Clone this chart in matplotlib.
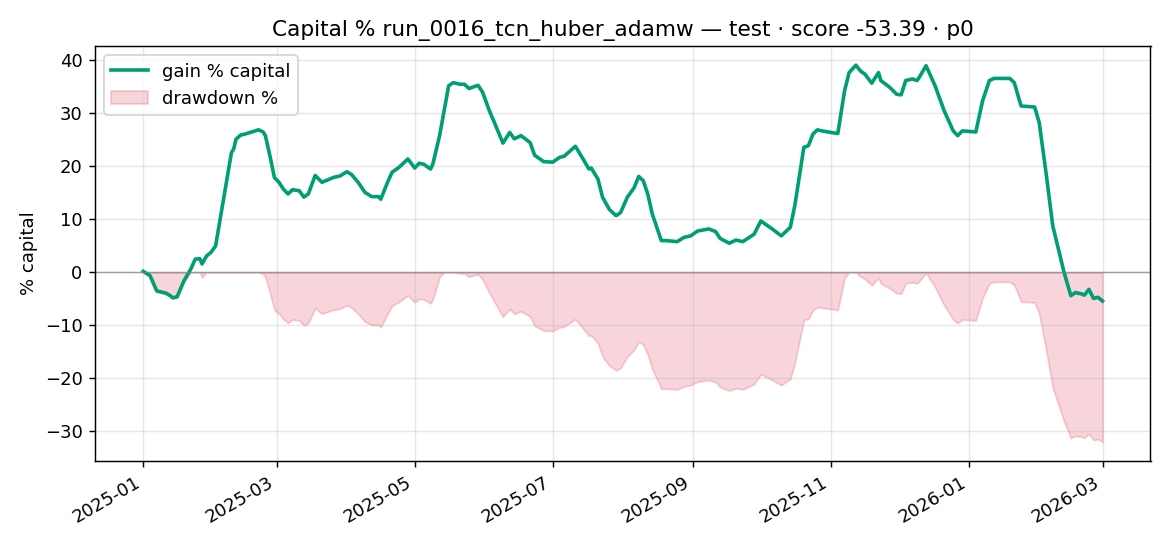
import matplotlib
matplotlib.use("Agg")
import matplotlib.pyplot as plt
from matplotlib.dates import DateFormatter, MonthLocator
import numpy as np
import pandas as pd

start = pd.Timestamp("2025-01-01")

# days since start, gain % of capital
day_offsets = [0, 3, 6, 10, 12, 13, 15, 18, 21, 23, 25, 26, 28, 30, 32, 34, 36, 39, 40, 41,
               43, 45, 48, 51, 53, 54, 56, 58, 60, 62, 64, 66, 69, 71, 73, 76, 79, 84, 87, 90,
               92, 95, 98, 101, 104, 105, 108, 110, 113, 114, 117, 120, 122, 124, 127, 128, 131, 133, 135, 137,
               140, 142, 144, 148, 150, 153, 155, 159, 162, 164, 167, 171, 173, 177, 181, 184, 186, 191, 194, 197,
               198, 201, 203, 206, 209, 211, 214, 217, 219, 221, 223, 225, 229, 231, 236, 239, 242, 245, 250, 253,
               255, 259, 262, 265, 270, 273, 278, 282, 286, 288, 292, 294, 296, 298, 300, 304, 307, 310, 312, 315,
               317, 319, 322, 325, 326, 330, 333, 335, 337, 340, 342, 343, 346, 350, 354, 356, 358, 360, 362, 368,
               371, 374, 376, 383, 385, 388, 394, 396, 399, 402, 407, 410, 412, 415, 416, 418, 420, 422, 424]
gain_pct = [0.2, -0.6, -3.5, -3.9, -4.4, -4.8, -4.6, -1.6, 0.6, 2.5, 2.6, 1.6, 3.1, 3.8, 5.0, 10.0, 15.1, 22.6, 23.3, 25.1,
            25.9, 26.1, 26.5, 26.9, 26.5, 25.8, 22.0, 17.9, 17.0, 15.7, 14.8, 15.6, 15.4, 14.2, 14.8, 18.3, 17.0, 17.9, 18.2, 19.0,
            18.5, 17.0, 15.1, 14.3, 14.3, 13.8, 17.0, 18.9, 19.8, 20.2, 21.4, 19.7, 20.6, 20.4, 19.5, 20.4, 25.8, 30.5, 35.2, 35.8,
            35.5, 35.5, 34.7, 35.3, 34.0, 30.5, 28.5, 24.4, 26.4, 25.2, 25.8, 24.5, 22.1, 20.9, 20.8, 21.7, 21.9, 23.8, 21.7, 19.5,
            19.7, 17.6, 14.2, 11.9, 10.7, 11.3, 14.2, 16.0, 18.1, 17.3, 14.8, 11.0, 6.0, 6.0, 5.8, 6.6, 6.9, 7.8, 8.2, 7.7,
            6.4, 5.5, 6.1, 5.8, 7.2, 9.7, 8.2, 6.9, 8.5, 12.6, 23.6, 23.9, 26.1, 26.9, 26.7, 26.4, 26.2, 34.3, 37.7, 39.1,
            38.0, 37.4, 35.7, 37.7, 36.2, 34.9, 33.6, 33.5, 36.2, 36.5, 36.2, 36.8, 39.0, 35.2, 30.5, 28.6, 26.7, 25.8, 26.7, 26.5,
            32.4, 36.2, 36.6, 36.6, 35.8, 31.4, 31.2, 28.3, 18.9, 8.8, 0.0, -4.4, -3.8, -4.1, -4.3, -3.2, -4.9, -4.7, -5.4]

dates = start + pd.to_timedelta(day_offsets, unit="D")
gain = np.array(gain_pct)

# drawdown relative to running peak of capital
cap = 1 + gain / 100
peak = np.maximum.accumulate(cap)
dd = (cap / peak - 1) * 100

fig, ax = plt.subplots(figsize=(9, 4.2), dpi=130)
ax.plot(dates, gain, color="#009e73", lw=2, label="gain % capital")
ax.fill_between(dates, dd, 0, color="crimson", alpha=0.18, label="drawdown %")
ax.axhline(0, color="gray", lw=0.8, alpha=0.7)

ax.set_title("Capital % run_0016_tcn_huber_adamw — test · score -53.39 · p0")
ax.set_ylabel("% capital")
ax.grid(alpha=0.3)
ax.legend(loc="upper left")
ax.xaxis.set_major_locator(MonthLocator(bymonth=[1, 3, 5, 7, 9, 11]))
ax.xaxis.set_major_formatter(DateFormatter("%Y-%m"))
fig.autofmt_xdate()
fig.tight_layout()
fig.savefig("out.png", dpi=130)
